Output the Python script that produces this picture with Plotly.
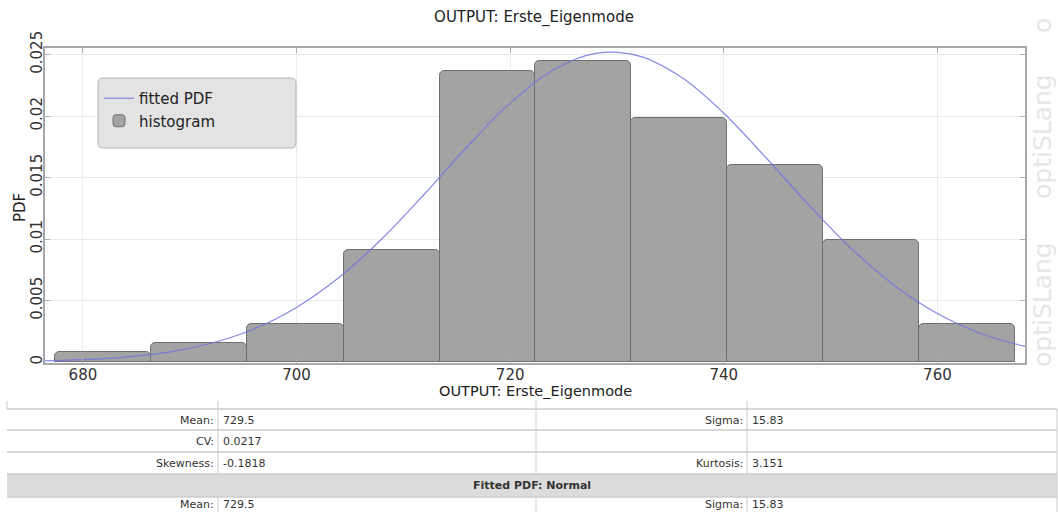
import plotly.graph_objects as go

# ---------------- data ----------------
bin_edges = [677.4, 686.4, 695.4, 704.4, 713.4, 722.3, 731.3, 740.3, 749.3, 758.3, 767.3]
hist_pdf = [0.0008, 0.00155, 0.0031, 0.0091, 0.0237, 0.0245, 0.0198, 0.0160, 0.0099, 0.0031]

fit_x = [676, 680, 684, 688, 692, 696, 700, 704, 708, 712, 716, 720, 724, 728,
         732, 736, 740, 744, 748, 752, 756, 760, 764, 768, 769]
fit_pdf = [0.000083, 0.000190, 0.000405, 0.000811, 0.001523, 0.002685, 0.004439,
           0.006886, 0.010020, 0.013678, 0.017520, 0.021048, 0.023726, 0.025089,
           0.024890, 0.023165, 0.020226, 0.016567, 0.012731, 0.009177, 0.006208,
           0.003939, 0.002344, 0.001309, 0.00112]

y_ticks = [0, 0.005, 0.01, 0.015, 0.02, 0.025]
y_tick_text = ["0", "0.005", "0.01", "0.015", "0.02", "0.025"]
x_ticks = [680, 700, 720, 740, 760]

title_text = "OUTPUT: Erste_Eigenmode"
y_title = "PDF"
stats_rows = [("Mean:", "729.5", "Sigma:", "15.83"),
              ("CV:", "0.0217", "", ""),
              ("Skewness:", "-0.1818", "Kurtosis:", "3.151")]
fit_header = "Fitted PDF: Normal"
fit_rows = [("Mean:", "729.5", "Sigma:", "15.83")]

# ---------------- layout helpers (pixel -> paper) ----------------
W, H = 1058, 512
L, R, T, B = 45, 1025, 48, 363


def px(x):
    return (x - L) / (R - L)


def py(y):
    return (B - y) / (B - T)


centers = [(a + b) / 2 for a, b in zip(bin_edges[:-1], bin_edges[1:])]
widths = [b - a for a, b in zip(bin_edges[:-1], bin_edges[1:])]

fig = go.Figure()
fig.add_trace(go.Bar(
    x=centers, y=hist_pdf, width=widths, name="histogram",
    marker=dict(color="#a3a3a3", line=dict(color="#6f6f6f", width=1), cornerradius=5),
    legendrank=2,
))
fig.add_trace(go.Scatter(
    x=fit_x, y=fit_pdf, mode="lines", name="fitted PDF",
    line=dict(color="rgba(115,115,225,0.85)", width=1.2, shape="spline"),
    legendrank=1,
))

shapes = []
annotations = []

# legend background box (rounded)
bx0, by0, bx1, by1, r = 98, 78, 296, 148, 5
path = (f"M {px(bx0 + r)} {py(by0)} L {px(bx1 - r)} {py(by0)} "
        f"Q {px(bx1)} {py(by0)} {px(bx1)} {py(by0 + r)} L {px(bx1)} {py(by1 - r)} "
        f"Q {px(bx1)} {py(by1)} {px(bx1 - r)} {py(by1)} L {px(bx0 + r)} {py(by1)} "
        f"Q {px(bx0)} {py(by1)} {px(bx0)} {py(by1 - r)} L {px(bx0)} {py(by0 + r)} "
        f"Q {px(bx0)} {py(by0)} {px(bx0 + r)} {py(by0)} Z")
shapes.append(dict(type="path", xref="paper", yref="paper", path=path,
                   fillcolor="#e3e3e3", line=dict(color="#b4b4b4", width=1), layer="above"))

# ---------------- table ----------------
tl, tr = 7, 1057
hlines = [409, 430, 452, 474, 497]
line_col = "#cccccc"
for yl in hlines:
    shapes.append(dict(type="line", xref="paper", yref="paper",
                       x0=px(tl), x1=px(tr), y0=py(yl), y1=py(yl),
                       line=dict(color=line_col, width=1.5)))
shapes.append(dict(type="rect", xref="paper", yref="paper",
                   x0=px(tl), x1=px(tr), y0=py(474), y1=py(497),
                   fillcolor="#dcdcdc", line=dict(width=0), layer="below"))
col_x = [218, 536, 747]
for cx in col_x:
    for (ya, yb) in [(401, 474), (497, 512)]:
        shapes.append(dict(type="line", xref="paper", yref="paper",
                           x0=px(cx), x1=px(cx), y0=py(ya), y1=py(yb),
                           line=dict(color=line_col, width=1)))
shapes.append(dict(type="line", xref="paper", yref="paper",
                   x0=px(tl), x1=px(tl), y0=py(401), y1=py(409),
                   line=dict(color=line_col, width=1)))
shapes.append(dict(type="line", xref="paper", yref="paper",
                   x0=px(tr), x1=px(tr), y0=py(409), y1=py(512),
                   line=dict(color=line_col, width=1)))

tfont = dict(family="DejaVu Sans", size=11, color="#333333")


def add_row(yy, cells):
    l1, v1, l2, v2 = cells
    for text, xx, anc in [(l1, 216, "right"), (v1, 221, "left"), (l2, 745, "right"), (v2, 750, "left")]:
        if text:
            annotations.append(dict(text=text, x=px(xx), y=py(yy), xref="paper", yref="paper",
                                    xanchor=anc, yanchor="middle", showarrow=False, font=tfont))


for yy, cells in zip([420, 441, 463], stats_rows):
    add_row(yy, cells)
annotations.append(dict(text=f"<b>{fit_header}</b>", x=px(532), y=py(485.5), xref="paper",
                        yref="paper", xanchor="center", yanchor="middle", showarrow=False,
                        font=tfont))
for yy, cells in zip([504], fit_rows):
    add_row(yy, cells)

# x-axis title (tight under ticks)
annotations.append(dict(text=title_text, x=px(535), y=py(391), xref="paper", yref="paper",
                        xanchor="center", yanchor="middle", showarrow=False,
                        font=dict(family="DejaVu Sans", size=14.5, color="#222222")))
# y-axis title
annotations.append(dict(text=y_title, x=px(20), y=py(208), xref="paper", yref="paper",
                        xanchor="center", yanchor="middle", showarrow=False, textangle=-90,
                        font=dict(family="DejaVu Sans", size=15, color="#222222")))
# watermark
wm_font = dict(family="DejaVu Sans", size=25, color="#e6e6e6")
for txt, yy in [("optiSLang", 305), ("optiSLang", 137), ("o", 26)]:
    annotations.append(dict(text=txt, x=px(1042), y=py(yy), xref="paper", yref="paper",
                            xanchor="center", yanchor="middle", showarrow=False,
                            textangle=-90, font=wm_font))

fig.update_layout(
    width=W, height=H, autosize=False,
    margin=dict(l=L, r=W - R, t=T, b=H - B, pad=0),
    paper_bgcolor="white", plot_bgcolor="white",
    title=dict(text=title_text, x=px(534), xref="paper", xanchor="center",
               y=1 - 17 / H, yanchor="middle",
               font=dict(family="DejaVu Sans", size=15, color="#222222")),
    font=dict(family="DejaVu Sans", color="#333333"),
    showlegend=True,
    legend=dict(x=px(99), y=py(82), xanchor="left", yanchor="top",
                bgcolor="rgba(0,0,0,0)", borderwidth=0, itemwidth=30,
                font=dict(family="DejaVu Sans", size=15, color="#222222")),
    shapes=shapes, annotations=annotations,
    bargap=0,
)
fig.update_xaxes(range=[676.45, 768.2], tickvals=x_ticks, showgrid=True, gridcolor="#ebebeb",
                 showline=True, linecolor="#a8a8a8", linewidth=1.5, mirror="ticks",
                 ticks="inside", ticklen=5, tickcolor="#b0b0b0", zeroline=False,
                 ticklabelstandoff=-3,
                 tickfont=dict(family="DejaVu Sans", size=15, color="#333333"))
fig.update_yaxes(range=[-0.00008, 0.02553], tickvals=y_ticks, ticktext=y_tick_text,
                 tickangle=-90, showgrid=True, gridcolor="#ebebeb",
                 showline=True, linecolor="#a8a8a8", linewidth=1.5, mirror="ticks",
                 ticks="inside", ticklen=5, tickcolor="#b0b0b0", zeroline=False,
                 ticklabelstandoff=-5,
                 tickfont=dict(family="DejaVu Sans", size=15, color="#333333"))

fig.write_html("out.html", config={"displayModeBar": False},
               post_script="document.body.style.margin='0';")
